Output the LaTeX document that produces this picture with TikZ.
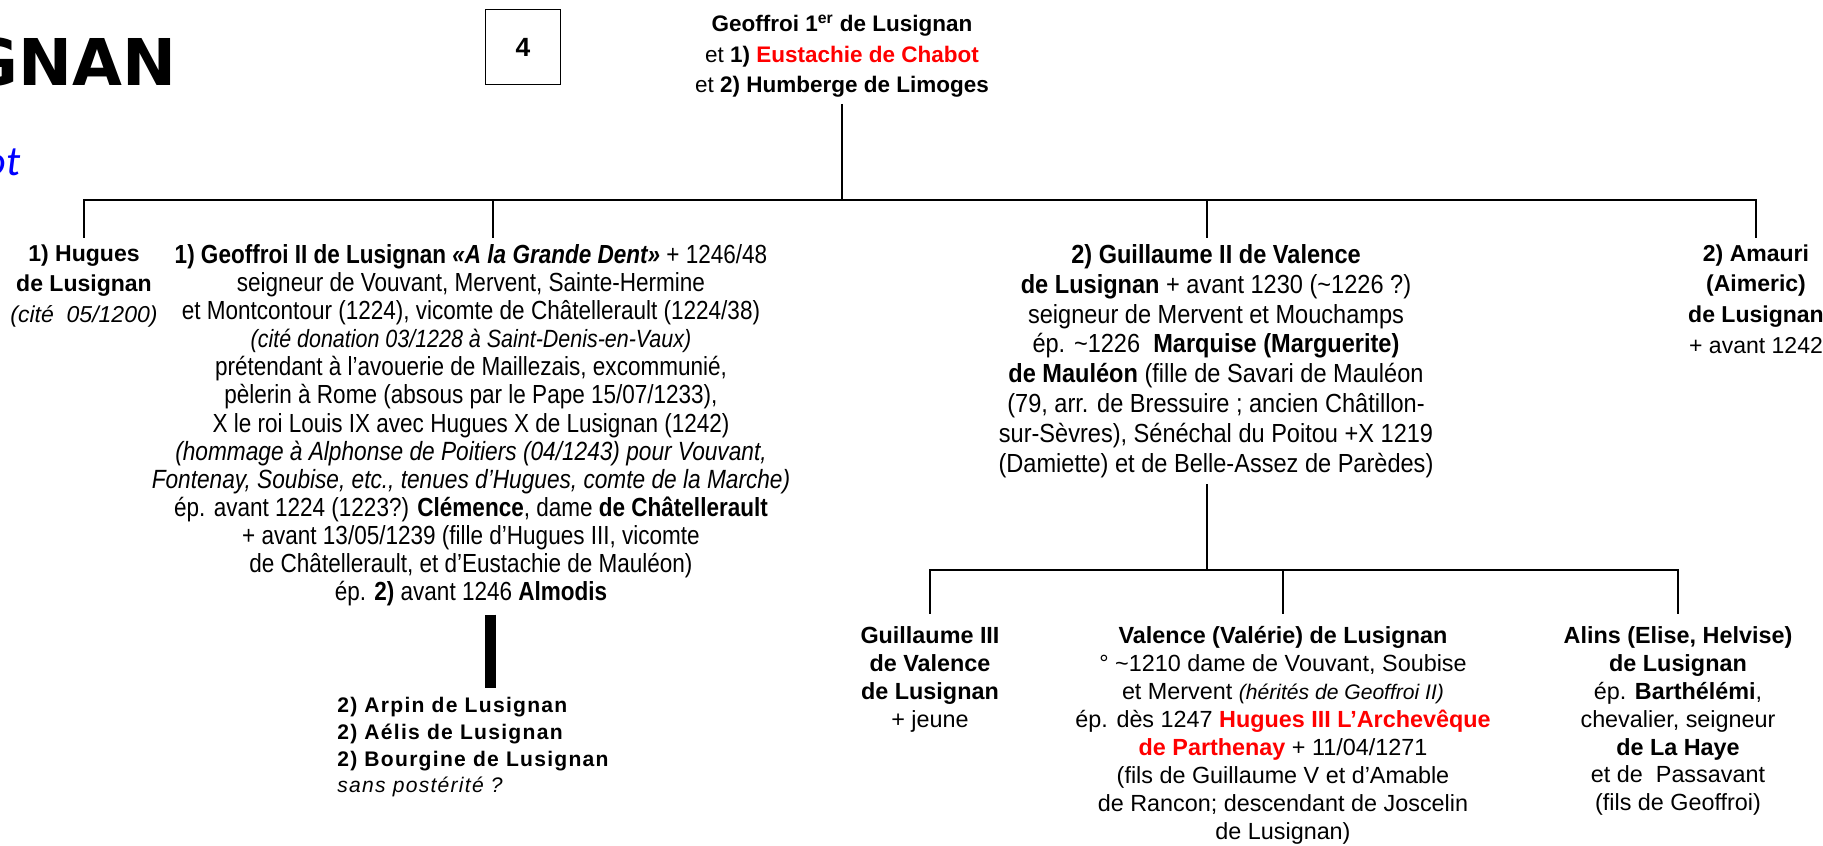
\documentclass[tikz,border=0pt]{standalone}
\usepackage{fontspec}
\setmainfont{Liberation Sans}
\newfontfamily\narrowfont[FakeStretch=0.86]{Liberation Sans}
\newfontfamily\widenarrowfont[FakeStretch=0.9]{Liberation Sans}
\newfontfamily\titlefont{DejaVu Sans}
\newfontfamily\subtitlefont{Carlito}
\newfontfamily\spacedfont[LetterSpace=6]{Liberation Sans}
\newcommand{\asidetext}{\fontsize{15}{16}\selectfont\itshape}
\usepackage{xcolor}

\begin{document}
\begin{tikzpicture}[x=0.2mm, y=-0.2mm,
    every node/.style={
        align=center,
        inner xsep=0pt,
        inner ysep=1.2mm
    },
    parents/.style={font=\fontsize{12.8}{17.4}\selectfont},
    person/.style={font=\fontsize{13.1}{17.6}\selectfont},
    narrowperson/.style={font=\narrowfont\fontsize{14.9}{16}\selectfont},
    grandchild/.style={inner ysep=2.4mm, font=\fontsize{13.3}{15.9}\selectfont},
    link/.style={line width=0.45mm},
    heavylink/.style={line width=2.2mm}
]
    \useasboundingbox (0,0) rectangle (1823,846);
    \clip (0,0) rectangle (1823,846);

    \node (title_gnan) [anchor=base east, inner sep=0pt, shift={(177,86)},
        font=\titlefont\bfseries\fontsize{36.7}{40}\selectfont] {GNAN};

    \node (subtitle_ot) [anchor=base east, inner sep=0pt, shift={(21,176)},
        text=blue, font=\subtitlefont\itshape\fontsize{24}{28}\selectfont] {ot};

    \node (number_box) [draw, line width=0.3mm, minimum width=15mm, minimum height=15mm,
        shift={(523,47)}, font=\bfseries\fontsize{15}{17}\selectfont] {4};

    \node (geoffroi_first) [parents, anchor=north, shift={(842,9)}]
    {
        \textbf{Geoffroi 1\textsuperscript{er} de Lusignan}\\
        et \textbf{1) \textcolor{red}{Eustachie de Chabot}}\\
        et \textbf{2) Humberge de Limoges}
    };


    \node (hugues) [person, anchor=north, shift={(84,238)}]
    {
        \textbf{1) Hugues}\\
        \textbf{de Lusignan}\\
        \textit{(cité\ \ 05/1200)}
    };

    \node (geoffroi_second) [narrowperson, anchor=north, shift={(471,238)}]
    {
        \textbf{1) Geoffroi II de Lusignan \textit{«A la Grande Dent»}} + 1246/48\\
        seigneur de Vouvant, Mervent, Sainte-Hermine\\
        et Montcontour (1224), vicomte de Châtellerault (1224/38)\\
        {\asidetext\fontsize{14.2}{16}\selectfont (cité donation 03/1228 à Saint-Denis-en-Vaux)}\\
        prétendant à l’avouerie de Maillezais, excommunié,\\
        pèlerin à Rome (absous par le Pape 15/07/1233),\\
        X le roi Louis IX avec Hugues X de Lusignan (1242)\\
        {\asidetext (hommage à Alphonse de Poitiers (04/1243) pour Vouvant,}\\
        {\asidetext Fontenay, Soubise, etc., tenues d’Hugues, comte de la Marche)}\\
        ép. avant 1224 (1223?) \textbf{Clémence}, dame \textbf{de Châtellerault}\\
        + avant 13/05/1239 (fille d’Hugues III, vicomte\\
        de Châtellerault, et d’Eustachie de Mauléon)\\
        ép. \textbf{2)} avant 1246 \textbf{Almodis}
    };

    \node (guillaume_second) [narrowperson, anchor=north, shift={(1216,238)},
        font=\widenarrowfont\fontsize{14.9}{17}\selectfont]
    {
        \textbf{2) Guillaume II de Valence}\\
        \textbf{de Lusignan} + avant 1230 (\textasciitilde 1226 ?)\\
        seigneur de Mervent et Mouchamps\\
        ép. \textasciitilde 1226\ \ \textbf{Marquise (Marguerite)}\\
        \textbf{de Mauléon} (fille de Savari de Mauléon\\
        (79, arr. de Bressuire ; ancien Châtillon-\\
        sur-Sèvres), Sénéchal du Poitou +X 1219\\
        (Damiette) et de Belle-Assez de Parèdes)
    };

    \node (amauri) [person, anchor=north, shift={(1756,238)}]
    {
        \textbf{2) Amauri}\\
        \textbf{(Aimeric)}\\
        \textbf{de Lusignan}\\
        + avant 1242
    };


    \node (arpin_list) [anchor=north west, align=left, shift={(337,691)},
        font=\spacedfont\fontsize{12}{15.2}\selectfont]
    {
        \textbf{2) Arpin de Lusignan}\\
        \textbf{2) Aélis de Lusignan}\\
        \textbf{2) Bourgine de Lusignan}\\
        \textit{sans postérité ?}
    };


    \node (guillaume_third) [grandchild, anchor=north, shift={(930,614)}]
    {
        \textbf{Guillaume III}\\
        \textbf{de Valence}\\
        \textbf{de Lusignan}\\
        + jeune
    };

    \node (valence) [grandchild, anchor=north, shift={(1283,614)}]
    {
        \textbf{Valence (Valérie) de Lusignan}\\
        ° \textasciitilde 1210 dame de Vouvant, Soubise\\
        et Mervent {\fontsize{12}{16}\selectfont\itshape (hérités de Geoffroi II)}\\
        ép. dès 1247 \textbf{\textcolor{red}{Hugues III L’Archevêque}}\\
        \textbf{\textcolor{red}{de Parthenay}} + 11/04/1271\\
        (fils de Guillaume V et d’Amable\\
        de Rancon; descendant de Joscelin\\
        de Lusignan)
    };

    \node (alins) [grandchild, anchor=north, shift={(1678,614)}]
    {
        \textbf{Alins (Elise, Helvise)}\\
        \textbf{de Lusignan}\\
        ép. \textbf{Barthélémi},\\
        chevalier,\ seigneur\\
        \textbf{de La Haye}\\
        et de\ \ Passavant\\
        (fils de Geoffroi)
    };


    \coordinate (upper_bus) at (geoffroi_first.south |- 0,200);
    \coordinate (guillaume_drop) at ([xshift=-1.8mm]guillaume_second.south);
    \coordinate (lower_bus) at (guillaume_drop |- 0,570);
    \coordinate (almodis_bar) at (490,0);

    \draw[link] (geoffroi_first.south) to (upper_bus);
    \draw[link] (upper_bus) -| (hugues.north);
    \draw[link] (upper_bus) -| ([xshift=4.4mm]geoffroi_second.north);
    \draw[link] (upper_bus) -| ([xshift=-1.8mm]guillaume_second.north);
    \draw[link] (upper_bus) -| (amauri.north);

    \draw[heavylink, shorten <=0.4mm, shorten >=0.6mm]
        (geoffroi_second.south -| almodis_bar) to (arpin_list.north -| almodis_bar);

    \draw[link] (guillaume_drop) to (lower_bus);
    \draw[link] (lower_bus) -| (guillaume_third.north);
    \draw[link] (lower_bus) -| (valence.north);
    \draw[link] (lower_bus) -| (alins.north);
\end{tikzpicture}
\end{document}
